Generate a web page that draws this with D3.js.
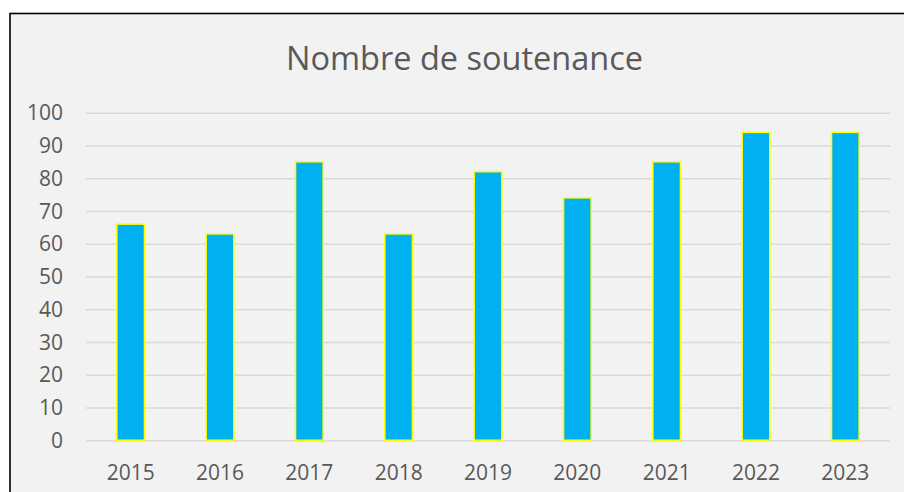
<!DOCTYPE html>
<html><head><meta charset="utf-8">
<script src="https://cdn.jsdelivr.net/npm/d3@7"></script>
<style>html,body{margin:0;padding:0;background:#fff;overflow:hidden}</style>
</head><body>
<script>
const categories = ["2015","2016","2017","2018","2019","2020","2021","2022","2023"];
const values = [66, 63, 85, 63, 82, 74, 85, 94, 94];
const yTicks = [0,10,20,30,40,50,60,70,80,90,100];
const title = "Nombre de soutenance";

const W = 904, H = 492;
const svg = d3.select("body").append("svg").attr("width", W).attr("height", H);
svg.append("rect").attr("x",0).attr("y",0).attr("width",W).attr("height",H).attr("fill","#fff");
svg.append("rect").attr("x",10).attr("y",13.5).attr("width",W+10).attr("height",H+10)
  .attr("fill","#f2f2f2").attr("stroke","#000").attr("stroke-width",1.6);

const font = "'Open Sans', sans-serif";
const x = d3.scaleBand().domain(categories).range([86, 890]).paddingInner(0.69).paddingOuter(0.345);
const y = d3.scaleLinear().domain([0,100]).range([440.3, 112.7]);

// grid
const gy = svg.append("g").attr("transform","translate(86,0)")
  .call(d3.axisLeft(y).tickValues(yTicks).tickSize(-804).tickFormat(""));
gy.select(".domain").remove();
gy.selectAll(".tick line").attr("stroke","#d9d9d9").attr("stroke-width",1.5);

// y labels
const yl = svg.append("g").attr("transform","translate(63,0)")
  .call(d3.axisLeft(y).tickValues(yTicks).tickSize(0).tickPadding(0));
yl.select(".domain").remove();
yl.selectAll("text").attr("font-family",font).attr("font-size",21).attr("fill","#595959").attr("dy","0.34em");

// bars
svg.append("g").selectAll("rect").data(values).join("rect")
  .attr("x",(d,i)=>x(categories[i])).attr("width",x.bandwidth())
  .attr("y",d=>y(d)).attr("height",d=>y(0)-y(d))
  .attr("fill","#00b0f0").attr("stroke","#ffff00").attr("stroke-width",1.6);

// x labels
const xl = svg.append("g").attr("transform","translate(0,440.3)")
  .call(d3.axisBottom(x).tickSize(0).tickPadding(0));
xl.select(".domain").remove();
xl.selectAll("text").attr("font-family",font).attr("font-size",21).attr("fill","#595959")
  .attr("dy",null).attr("y",39.5);

svg.append("text").attr("x",464.5).attr("y",70).attr("text-anchor","middle")
  .attr("font-family",font).attr("font-size",32.5).attr("fill","#595959").text(title);
</script>
</body></html>
